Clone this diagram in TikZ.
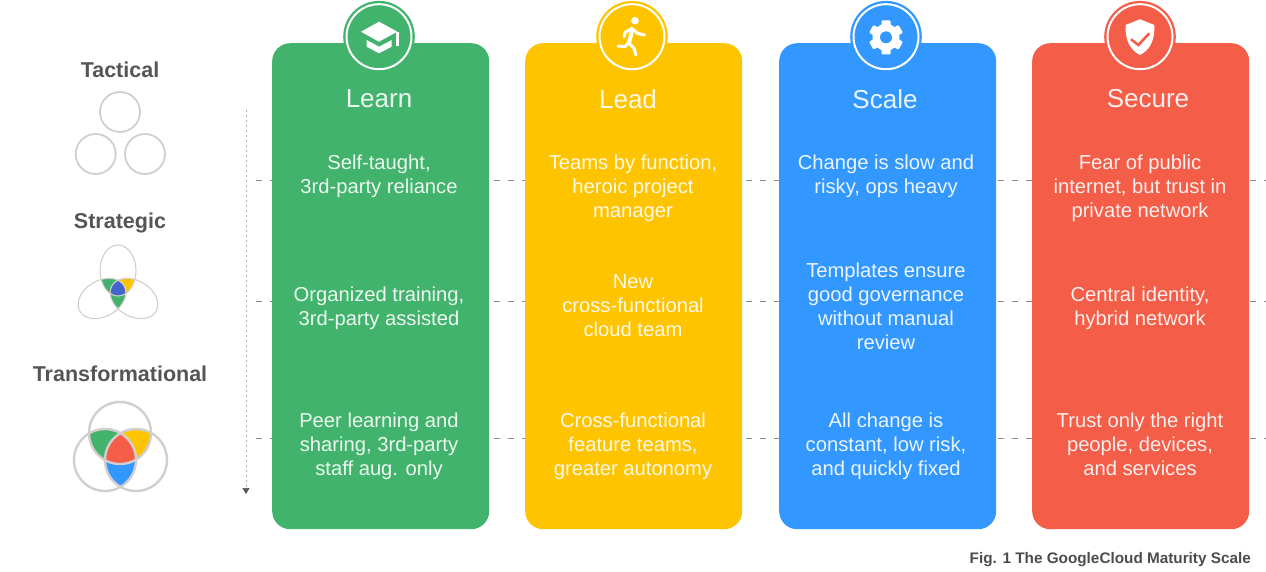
\documentclass[tikz,border=0pt]{standalone}
\usepackage{fontspec}
\setmainfont{Liberation Sans}
\usetikzlibrary{arrows.meta}
\definecolor{cgreen}{HTML}{41B36C}
\definecolor{cyellow}{HTML}{FFC400}
\definecolor{cblue}{HTML}{3298FF}
\definecolor{cred}{HTML}{F45D48}
\definecolor{cblue2}{HTML}{4466CC}
\definecolor{ringgrey}{HTML}{D2CECE}
\definecolor{labelgrey}{HTML}{555555}
\newcommand{\ttlfont}{\fontsize{26}{30}\selectfont}
\newcommand{\bdyfont}{\fontsize{20.2}{24}\selectfont}
\newcommand{\etopp}{(118,270.5) ellipse [x radius=18,y radius=25.5]}
\newcommand{\eleftp}{(102,298.5) ellipse [x radius=25.5,y radius=18,rotate=30]}
\newcommand{\erightp}{(134,298.5) ellipse [x radius=25.5,y radius=18,rotate=-30]}
\newcommand{\vca}{(120,433) circle (31)}
\newcommand{\vcb}{(105,460) circle (31)}
\newcommand{\vcc}{(136,460) circle (31)}
\tikzset{
  card/.style={rounded corners=18pt,minimum width=217pt,minimum height=486pt,inner sep=0pt,anchor=north west},
  badge/.style={circle,minimum size=65pt,inner sep=0pt,draw=white,line width=2pt},
  title/.style={text=white,text opacity=.9,font=\ttlfont,anchor=center,inner sep=0pt},
  body/.style={text=white,text opacity=.9,font=\bdyfont,align=center,anchor=center,inner sep=0pt},
  level/.style={text=labelgrey,font=\fontsize{21.5}{26}\selectfont\bfseries,anchor=center,inner sep=0pt},
  guide/.style={draw=black!45,line width=.8pt,dash pattern=on 6pt off 8pt},
  ring/.style={draw=ringgrey,line width=1.8pt},
  thinring/.style={draw=ringgrey,line width=1.1pt},
  icon/.style={fill=white,draw=none},
  iconline/.style={draw=white,line width=3pt,line cap=round,line join=round}
}
\begin{document}
\begin{tikzpicture}[x=1pt,y=-1pt]
\useasboundingbox (0,0) rectangle (1266,572);
% guides
\coordinate (g1a) at (256,180); \coordinate (g1b) at (1266,180);
\coordinate (g2a) at (256,301); \coordinate (g2b) at (1266,301);
\coordinate (g3a) at (256,438); \coordinate (g3b) at (1266,438);
\coordinate (va) at (246,110); \coordinate (vb) at (246,494);
\draw[guide] (g1a) -- (g1b);
\draw[guide] (g2a) -- (g2b);
\draw[guide] (g3a) -- (g3b);
\draw[draw=black!30,line width=.7pt,dash pattern=on 2pt off 3pt,-{Triangle[length=6pt,width=7pt,fill=black!65,color=black!65]}] (va) -- (vb);
% cards
\node[card,fill=cgreen]  (learn)  at (272,43) {};
\node[card,fill=cyellow] (lead)   at (525,43) {};
\node[card,fill=cblue]   (scale)  at (779,43) {};
\node[card,fill=cred]    (secure) at (1032,43) {};
% badges
\foreach \n/\c/\x in {bl/cgreen/379,by/cyellow/632,bb/cblue/886,br/cred/1140}{
  \fill[\c] (\x,36.7) circle (35.8);
  \node[badge,fill=\c] (\n) at (\x,36.7) {};
}
% cap icon
\fill[icon] (379,21.7) -- (397.3,31.7) -- (379,41.7) -- (361,31.7) -- cycle;
\fill[icon] (366.7,40) -- (379,46.7) -- (391.7,40) -- (391.7,46.7) -- (379,53.3) -- (366.7,46.7) -- cycle;
\fill[icon] (396,32) rectangle (399,46.5);
% runner icon
\fill[icon] (635,20.7) circle (3.8);
\draw[iconline] (624,37) -- (625,32.5) -- (631.7,28.5);
\draw[iconline,line width=4pt,line cap=butt] (632.5,28.5) -- (629,43);
\draw[iconline] (629,43) -- (634,48.5) -- (636,55);
\draw[iconline] (631.7,28.5) -- (638,33.5) -- (644.5,35);
\draw[iconline] (628.3,43) -- (625,46.7) -- (618,46);
% gear icon
\fill[icon] (886,37.3) circle (13.5);
\foreach \a in {0,60,120}{
  \fill[icon,rounded corners=1pt,rotate around={\a:(886,37.3)}] (881.5,20.3) rectangle (890.5,54.3);
}
\fill[cblue] (886,37.3) circle (6);
% shield icon
\fill[icon] (1140,19.3) -- (1154.3,25) .. controls (1155,40) and (1150,50) .. (1140,55) .. controls (1130,50) and (1125,40) .. (1125.5,25) -- cycle;
\draw[draw=cred,line width=2.6pt,line join=miter] (1131,39.3) -- (1138.3,45) -- (1149.3,33.3);
% titles
\node[title] (tlearn)  at (379,99)  {Learn};
\node[title] (tlead)   at (628,99)  {Lead};
\node[title] (tscale)  at (885,99)  {Scale};
\node[title] (tsecure) at (1148,99) {Secure};
% bodies
\node[body] (l1) at (379,176) {Self-taught,\\3rd-party reliance};
\node[body] (l2) at (379,308) {Organized training,\\3rd-party assisted};
\node[body] (l3) at (379,446) {Peer learning and\\sharing, 3rd-party\\staff aug. only};
\node[body] (m1) at (633,188) {Teams by function,\\heroic project\\manager};
\node[body] (m2) at (633,306) {New\\cross-functional\\cloud team};
\node[body] (m3) at (633,446) {Cross-functional\\feature teams,\\greater autonomy};
\node[body] (s1) at (886,176) {Change is slow and\\risky, ops heavy};
\node[body] (s2) at (886,306) {Templates ensure\\good governance\\without manual\\review};
\node[body] (s3) at (886,446) {All change is\\constant, low risk,\\and quickly fixed};
\node[body] (r1) at (1140,188) {Fear of public\\internet, but trust in\\private network};
\node[body] (r2) at (1140,308) {Central identity,\\hybrid network};
\node[body] (r3) at (1140,444) {Trust only the right\\people, devices,\\and services};
% levels
\node[level] (tac) at (120,70)  {Tactical};
\node[level] (str) at (120,223) {Strategic};
\node[level] (tra) at (120,374) {Transformational};
% tactical circles
\draw[ring] (120,112) circle (20);
\draw[ring] (95.7,154) circle (20);
\draw[ring] (145,154) circle (20);
% strategic venn
\begin{scope}\clip \etopp;\clip \eleftp;\fill[cgreen] (60,240) rectangle (180,330);\end{scope}
\begin{scope}\clip \etopp;\clip \erightp;\fill[cyellow] (60,240) rectangle (180,330);\end{scope}
\begin{scope}\clip \eleftp;\clip \erightp;\fill[cgreen] (60,240) rectangle (180,330);\end{scope}
\begin{scope}\clip \etopp;\clip \eleftp;\clip \erightp;\fill[cblue2] (60,240) rectangle (180,330);\end{scope}
\draw[thinring] \etopp;
\draw[thinring] \eleftp;
\draw[thinring] \erightp;
% transformational venn
\begin{scope}\clip \vca;\clip \vcb;\fill[cgreen] (60,390) rectangle (180,500);\end{scope}
\begin{scope}\clip \vca;\clip \vcc;\fill[cyellow] (60,390) rectangle (180,500);\end{scope}
\begin{scope}\clip \vcb;\clip \vcc;\fill[cblue] (60,390) rectangle (180,500);\end{scope}
\begin{scope}\clip \vca;\clip \vcb;\clip \vcc;\fill[cred] (60,390) rectangle (180,500);\end{scope}
\draw[ring,line width=2.4pt] \vca;
\draw[ring,line width=2.4pt] \vcb;
\draw[ring,line width=2.4pt] \vcc;
% caption
\node[anchor=east,inner sep=0pt,text=black!70,font=\fontsize{15.3}{18}\selectfont\bfseries] (cap) at (1251,560) {Fig. 1 The GoogleCloud Maturity Scale};
\end{tikzpicture}
\end{document}
